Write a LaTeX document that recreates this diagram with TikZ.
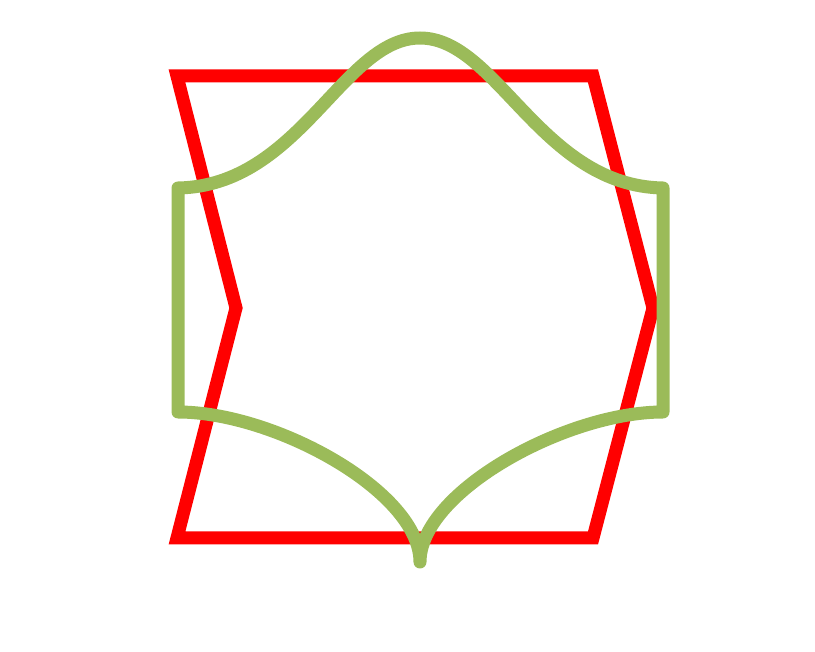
\documentclass[tikz,border=0pt]{standalone}
\definecolor{leaf}{HTML}{9BBB59}
\begin{document}
\begin{tikzpicture}[x=1pt,y=-1pt,
  redline/.style={draw=red,line width=13pt,line join=miter},
  greenline/.style={draw=leaf,line width=13pt,line join=round,line cap=round}]
\useasboundingbox (0,0) rectangle (815,652);
\coordinate (r1) at (177,76);
\coordinate (r2) at (593,76);
\coordinate (r3) at (653,308);
\coordinate (r4) at (593,538);
\coordinate (r5) at (177,538);
\coordinate (r6) at (236,308);
\draw[redline] (r1) -- (r2) -- (r3) -- (r4) -- (r5) -- (r6) -- cycle;
\coordinate (g0) at (420,562);
\coordinate (g1) at (178,412);
\coordinate (g2) at (178,188);
\coordinate (g3) at (420,38);
\coordinate (g4) at (663,188);
\coordinate (g5) at (663,412);
\draw[greenline] (g0) .. controls (420,492) and (275,412) .. (g1) -- (g2)
  .. controls (300,186) and (343,38) .. (g3)
  .. controls (497,38) and (541,186) .. (g4) -- (g5)
  .. controls (566,412) and (420,492) .. (g0);
\end{tikzpicture}
\end{document}
